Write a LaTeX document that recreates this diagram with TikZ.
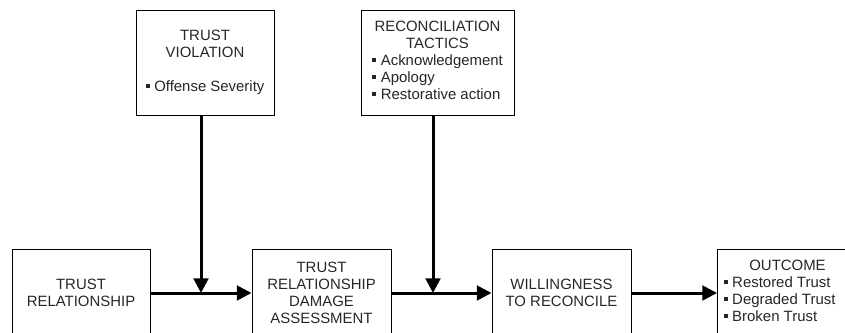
\documentclass[tikz,border=0pt]{standalone}
\usepackage{fontspec}
\setmainfont{Liberation Sans}
\usetikzlibrary{arrows.meta}
\newcommand{\sqb}{\rule[0.22em]{3pt}{3pt}\hspace{3.5pt}}

\begin{document}
\begin{tikzpicture}[x=0.75pt,y=-0.75pt,
        box/.style={draw=black,line width=0.75pt,align=center,inner sep=0pt,
                    font=\fontsize{11.2}{12.75}\selectfont,text=black!85},
        topbox/.style={box,minimum height=78.75pt},
        lowbox/.style={box,minimum width=104.25pt,minimum height=66pt},
        flow/.style={line width=2.25pt,-{Triangle[length=11pt,width=11pt]}}]
        \useasboundingbox (0,0) rectangle (845,332);
        \clip (0,0) rectangle (845,332);

        \coordinate (R) at (81,293);
        \coordinate (D) at (321.5,293);
        \coordinate (W) at (561.5,293);
        \coordinate (O) at (787.5,293);
        \coordinate (V) at (205,62.5);
        \coordinate (T) at (437.5,62.5);
        \coordinate (vx) at (201,0);
        \coordinate (tx) at (433,0);

        \node[lowbox,minimum width=103.5pt] (relation) at (R) {TRUST\\RELATIONSHIP};
        \node[lowbox] (damage)  at (D) {TRUST\\RELATIONSHIP\\DAMAGE\\ASSESSMENT};
        \node[lowbox] (willing) at (W) {WILLINGNESS\\TO RECONCILE};
        \node[lowbox,minimum width=105pt] (outcome) at (O)
            {OUTCOME\\\begin{tabular}[t]{@{}l@{\hspace{12pt}}}
                \sqb Restored Trust\\ \sqb Degraded Trust\\ \sqb Broken Trust
             \end{tabular}};

        \node[topbox,minimum width=103.5pt] (violation) at (V)
            {TRUST\\VIOLATION\\[12.75pt]\sqb Offense Severity};
        \node[topbox,minimum width=114.75pt] (tactics) at (T)
            {RECONCILIATION\\TACTICS\\\begin{tabular}[t]{@{}l@{}}
                \sqb Acknowledgement\\ \sqb Apology\\ \sqb Restorative action
             \end{tabular}};

        \draw[flow] (relation) -- (damage);
        \draw[flow] (damage)   -- (willing);
        \draw[flow] (willing)  -- (outcome);
        \draw[flow] (violation.south -| vx) -- (vx |- relation.east);
        \draw[flow] (tactics.south -| tx) -- (tx |- damage.east);
    \end{tikzpicture}
\end{document}
